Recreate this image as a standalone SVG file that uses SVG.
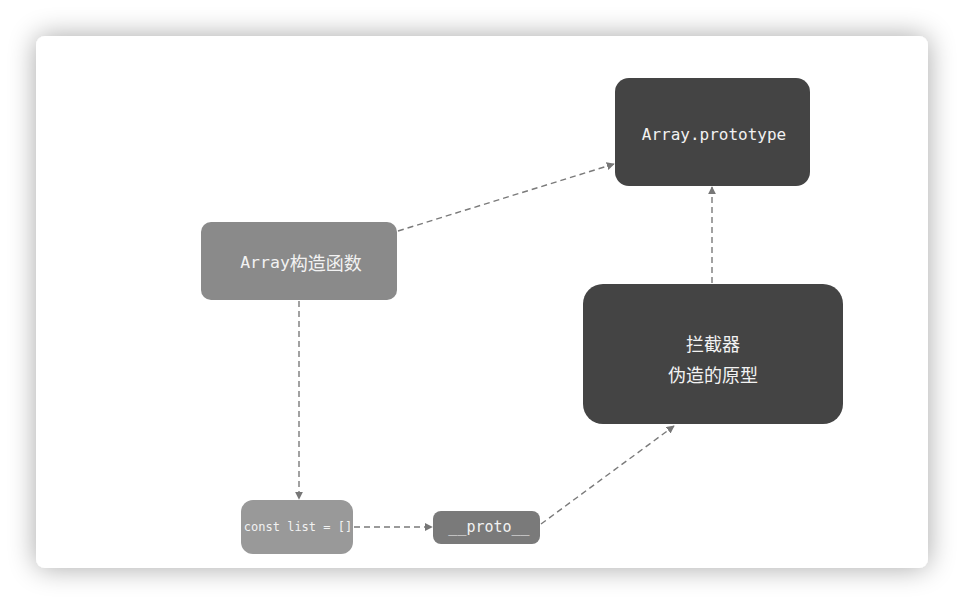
<svg xmlns="http://www.w3.org/2000/svg" width="964" height="604" viewBox="0 0 964 604">
<defs>
<filter id="sh" x="-10%" y="-10%" width="120%" height="120%">
<feGaussianBlur in="SourceAlpha" stdDeviation="14"/>
<feComponentTransfer><feFuncA type="linear" slope="0.35"/></feComponentTransfer>
<feMerge><feMergeNode/><feMergeNode in="SourceGraphic"/></feMerge>
</filter>
<marker id="ah" viewBox="0 0 10 10" refX="9" refY="5" markerWidth="8" markerHeight="8" markerUnits="userSpaceOnUse" orient="auto">
<path d="M0,0 L10,5 L0,10 z" fill="#777"/>
</marker>
</defs>
<style>
.edge{fill:none;stroke:#7a7a7a;stroke-width:1.4;stroke-dasharray:6 4;marker-end:url(#ah)}
.t{fill:#f2f2f2;text-anchor:middle;dominant-baseline:central;font-family:"DejaVu Sans Mono","Liberation Mono","Noto Sans CJK SC",monospace}
.c{fill:#f2f2f2;text-anchor:middle;dominant-baseline:central;font-family:"Noto Sans CJK SC",sans-serif}
</style>
<rect width="964" height="604" fill="#fff"/>
<rect x="36" y="36" width="892" height="532" rx="9" fill="#fff" filter="url(#sh)"/>
<g id="connectors">
<path class="edge" d="M398,231 L614,164"/>
<path class="edge" d="M299,301 L299,499"/>
<path class="edge" d="M354,527 L432,527"/>
<path class="edge" d="M541,524 L674,426"/>
<path class="edge" d="M712,283 L712,187"/>
</g>
<g id="node-array-prototype">
<rect x="615" y="78" width="195" height="108" rx="14" fill="#444"/>
<text class="t" x="714" y="134" font-size="16">Array.prototype</text>
</g>
<g id="node-array-constructor">
<rect x="201" y="222" width="196" height="78" rx="10" fill="#8a8a8a"/>
<text class="t" x="301" y="262" font-size="16.5">Array<tspan font-family="Noto Sans CJK SC,sans-serif" font-size="18">构造函数</tspan></text>
</g>
<g id="node-proxy">
<rect x="583" y="284" width="260" height="140" rx="20" fill="#444"/>
<text class="c" x="713" y="343" font-size="18">拦截器</text>
<text class="c" x="713" y="374" font-size="18">伪造的原型</text>
</g>
<g id="node-const-list">
<rect x="241" y="500" width="112" height="54" rx="12" fill="#999"/>
<text class="t" x="298" y="527" font-size="12">const list = []</text>
</g>
<g id="node-proto">
<rect x="433" y="511" width="107" height="33" rx="8" fill="#7a7a7a"/>
<text class="t" x="489" y="527" font-size="15">__proto__</text>
</g>
</svg>
